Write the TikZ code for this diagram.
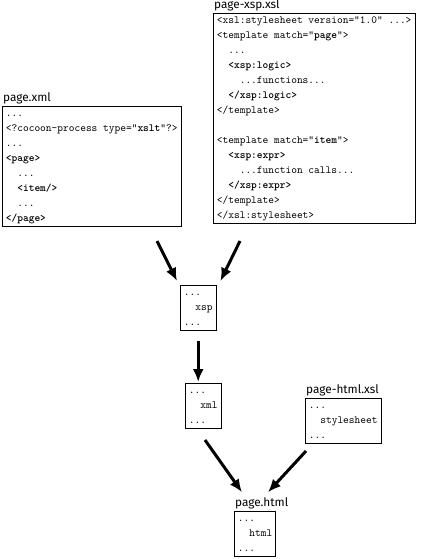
\documentclass[tikz,border=0pt]{standalone}
\usepackage{fontspec}
\setsansfont{Fira Sans}
\usetikzlibrary{arrows.meta,positioning}
\newcommand{\codefont}{\fontsize{10.9}{15}\selectfont\ttfamily}
\begin{document}
\begin{tikzpicture}[x=1pt,y=-1pt,
  file/.style={draw,anchor=north west,inner xsep=3.5pt,inner ysep=0pt,font=\codefont,line width=0.8pt},
  fname/.style={font=\sffamily\fontsize{11.8}{13}\selectfont,anchor=south west,inner xsep=1pt,inner ysep=1.5pt},
  flow/.style={-{Latex[length=13pt,width=11pt]},line width=3pt}]
  \useasboundingbox (0,0) rectangle (424,559);
  % source document and logicsheet
  \node[file] (src) at (2,106) {\begin{tabular}{@{}l@{}}
    ...\\
    <?cocoon-process type="\textbf{xslt}"?>\\
    ...\\
    \textbf{<page>}\\
    ~~...\\
    ~~\textbf{<item/>}\\
    ~~...\\
    \textbf{</page>}
  \end{tabular}};
  \node[fname] (srcname) at (src.north west) {page.xml};
  \node[file] (logic) at (213,13) {\begin{tabular}{@{}l@{}}
    <xsl:stylesheet version="1.0" ...>\\
    <template match="\textbf{page}">\\
    ~~...\\
    ~~\textbf{<xsp:logic>}\\
    ~~~~...functions...\\
    ~~\textbf{</xsp:logic>}\\
    </template>\\
    \\
    <template match="\textbf{item}">\\
    ~~\textbf{<xsp:expr>}\\
    ~~~~...function calls...\\
    ~~\textbf{</xsp:expr>}\\
    </template>\\
    </xsl:stylesheet>
  \end{tabular}};
  \node[fname] (logicname) at (logic.north west) {page-xsp.xsl};
  % intermediate results
  \node[file] (xsp) at (180,285) {\begin{tabular}{@{}l@{}}...\\~~xsp\\...\end{tabular}};
  \node[file] (xml) at (185,383) {\begin{tabular}{@{}l@{}}...\\~~xml\\...\end{tabular}};
  \node[file] (sheet) at (305,398) {\begin{tabular}{@{}l@{}}...\\~~stylesheet\\...\end{tabular}};
  \node[fname] (sheetname) at (sheet.north west) {page-html.xsl};
  \node[file] (html) at (234,511) {\begin{tabular}{@{}l@{}}...\\~~html\\...\end{tabular}};
  \node[fname] (htmlname) at (html.north west) {page.html};
  % arrows
  \coordinate (t1) at (157,241);
  \coordinate (t2) at (240,241);
  \coordinate (t4) at (205,440);
  \coordinate (t5) at (306,451);
  \draw[flow] (t1) -- ([xshift=-3pt,yshift=4pt]xsp.north west);
  \draw[flow] (t2) -- ([xshift=4pt,yshift=4pt]xsp.north east);
  \draw[flow,shorten <=10pt,shorten >=1pt] (xsp.south) -- (xsp.south |- xml.north);
  \draw[flow] (t4) -- ([xshift=8pt,yshift=4pt]htmlname.north west);
  \draw[flow] (t5) -- ([xshift=34pt,yshift=4pt]htmlname.north west);
\end{tikzpicture}
\end{document}
